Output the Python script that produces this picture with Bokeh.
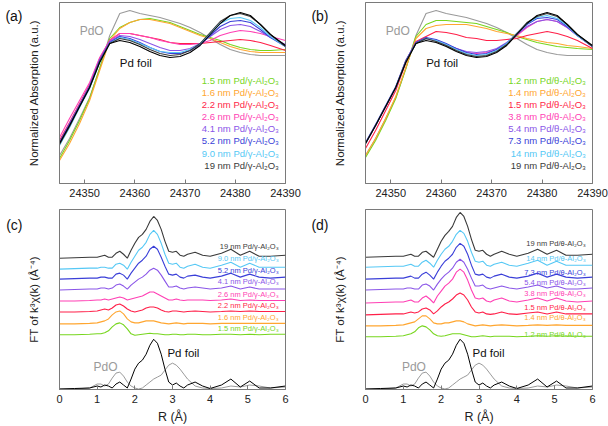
import numpy as np
from bokeh.plotting import figure
from bokeh.layouts import gridplot
from bokeh.models import Range1d, FixedTicker, Label, LinearAxis
from bokeh.embed import file_html
from bokeh.resources import INLINE

# ---------------- XANES data (a.u.) ----------------
energy = [24345, 24347, 24349, 24351, 24353, 24355, 24357, 24359, 24361, 24363, 24365, 24367,
          24369, 24371, 24373, 24375, 24377, 24379, 24381, 24383, 24385, 24387, 24390]

xanes_pd_foil = [40, 58, 77, 96, 121, 140, 143, 141, 137, 132, 128, 126, 127, 131, 138, 149, 160, 168, 171, 168, 159, 149, 138]
xanes_pdo = [28, 45, 65, 86, 115, 148, 170, 173, 170, 168, 166, 163, 160, 156, 151, 145, 139, 134, 131, 129, 128, 128, 128]

xanes_a_names = ["1.5 nm Pd/γ-Al₂O₃", "1.6 nm Pd/γ-Al₂O₃", "2.2 nm Pd/γ-Al₂O₃", "2.6 nm Pd/γ-Al₂O₃",
                 "4.1 nm Pd/γ-Al₂O₃", "5.2 nm Pd/γ-Al₂O₃", "9.0 nm Pd/γ-Al₂O₃", "19 nm Pd/γ-Al₂O₃"]
xanes_a_1p5 = [25, 43, 63, 85, 115, 145, 156, 161, 164, 165, 163, 161, 157, 153, 149, 146, 143, 139, 136, 134, 133, 133, 134]
xanes_a_1p6 = [23, 40, 60, 83, 113, 143, 155, 161, 164, 164, 162, 160, 156, 152, 148, 145, 141, 137, 134, 132, 131, 131, 131]
xanes_a_2p2 = [43, 61, 80, 99, 125, 143, 150, 150, 148, 146, 144, 141, 140, 140, 140, 141, 142, 143, 144, 143, 141, 138, 133]
xanes_a_2p6 = [46, 65, 83, 101, 126, 143, 150, 150, 148, 146, 143, 141, 139, 139, 140, 143, 148, 151, 153, 152, 150, 147, 143]
xanes_a_4p1 = [41, 60, 79, 98, 124, 142, 148, 147, 144, 140, 136, 133, 133, 135, 140, 147, 154, 158, 159, 157, 152, 146, 139]
xanes_a_5p2 = [41, 59, 78, 97, 123, 141, 147, 145, 141, 136, 132, 130, 130, 133, 139, 148, 157, 162, 163, 161, 154, 146, 137]
xanes_a_9p0 = [38, 56, 76, 95, 121, 140, 146, 144, 140, 136, 132, 131, 131, 134, 140, 150, 160, 165, 166, 163, 156, 147, 137]
xanes_a_19 = [39, 57, 77, 96, 122, 140, 145, 143, 139, 134, 130, 128, 129, 133, 140, 151, 162, 168, 170, 167, 159, 149, 137]

xanes_b_names = ["1.2 nm Pd/θ-Al₂O₃", "1.4 nm Pd/θ-Al₂O₃", "1.5 nm Pd/θ-Al₂O₃", "3.8 nm Pd/θ-Al₂O₃",
                 "5.4 nm Pd/θ-Al₂O₃", "7.3 nm Pd/θ-Al₂O₃", "14 nm Pd/θ-Al₂O₃", "19 nm Pd/θ-Al₂O₃"]
xanes_b_1p2 = [26, 43, 63, 85, 115, 147, 159, 163, 163, 162, 161, 160, 157, 154, 151, 147, 144, 141, 139, 137, 136, 135, 134]
xanes_b_1p4 = [28, 45, 65, 87, 116, 145, 155, 158, 159, 159, 159, 157, 155, 152, 150, 148, 145, 143, 141, 140, 138, 137, 135]
xanes_b_1p5 = [35, 53, 73, 93, 121, 142, 147, 152, 151, 149, 146, 145, 143, 143, 144, 145, 148, 150, 152, 150, 147, 143, 135]
xanes_b_3p8 = [40, 58, 77, 96, 123, 141, 145, 143, 139, 135, 131, 130, 131, 134, 140, 148, 156, 162, 164, 162, 156, 148, 137]
xanes_b_5p4 = [40, 58, 77, 96, 123, 141, 145, 143, 139, 135, 132, 131, 132, 135, 141, 149, 157, 162, 164, 162, 156, 148, 137]
xanes_b_7p3 = [41, 59, 78, 97, 123, 141, 146, 144, 140, 135, 131, 129, 130, 134, 140, 150, 159, 165, 166, 164, 157, 148, 137]
xanes_b_14 = [40, 58, 77, 96, 122, 140, 145, 143, 139, 134, 130, 128, 129, 133, 140, 150, 160, 166, 168, 165, 158, 148, 137]
xanes_b_19 = [40, 58, 77, 96, 122, 140, 145, 142, 138, 133, 129, 127, 128, 132, 139, 150, 161, 167, 170, 167, 159, 149, 137]

# ---------------- FT EXAFS data (a.u.) ----------------
r_dist = [0.0, 0.4, 0.8, 1.0, 1.1, 1.2, 1.3, 1.4, 1.5, 1.6, 1.7, 1.8, 1.9, 2.0, 2.1, 2.2, 2.3, 2.4, 2.5, 2.6,
          2.7, 2.8, 2.9, 3.0, 3.1, 3.2, 3.3, 3.4, 3.6, 3.8, 4.0, 4.3, 4.55, 4.8, 5.05, 5.3, 5.6, 6.0]

ft_pd_foil = [0, 0.5, 1, 3, 2, 4, 3, 1, 5, 7, 4, 1, 10, 20, 26, 29, 35, 44, 50, 46, 35, 20, 7, 4, 6, 3, 1, 4, 7, 3, 0.5, 4, 10, 2, 8, 1, 1, 3]
ft_pdo = [0, 0, 1, 5, 5, 3, 5, 11, 16, 17, 13, 7, 3, 1, 0, 1, 4, 7, 10, 12, 14, 19, 24, 26, 24, 20, 15, 10, 3, 1, 0.5, 1, 3, 2, 4, 3, 1, 2]

# panel (c), top to bottom
ft_c_names = ["19 nm Pd/γ-Al₂O₃", "9.0 nm Pd/γ-Al₂O₃", "5.2 nm Pd/γ-Al₂O₃", "4.1 nm Pd/γ-Al₂O₃",
              "2.6 nm Pd/γ-Al₂O₃", "2.2 nm Pd/γ-Al₂O₃", "1.6 nm Pd/γ-Al₂O₃", "1.5 nm Pd/γ-Al₂O₃"]
ft_c_19 = [0, 0.5, 1, 1, 2, 3, 1, 1, 5, 7, 4, 0, 8, 15, 21, 24, 29, 37, 42, 38, 29, 17, 7, 6, 7, 3, 2, 4, 6, 3, 2, 5, 9, 3, 7, 2, 2, 3]
ft_c_9p0 = [0, 0.5, 1, 1, 2, 2, 1, 1, 5, 6, 4, 0, 7, 13, 19, 22, 27, 35, 39, 35, 26, 15, 6, 5, 6, 2, 1, 3, 5, 2, 1, 4, 7, 2, 6, 2, 2, 2]
ft_c_5p2 = [0, 0.5, 1, 1, 2, 2, 1, 1, 5, 6, 4, 0, 6, 11, 16, 19, 23, 30, 33, 30, 22, 13, 5, 4, 5, 2, 1, 3, 4, 2, 1, 3, 6, 2, 5, 2, 1, 2]
ft_c_4p1 = [0, 0.5, 1, 1, 2, 2, 1, 2, 5, 6, 4, 1, 5, 8, 11, 13, 16, 20, 22, 20, 15, 9, 3, 3, 4, 2, 1, 2, 3, 2, 1, 2, 4, 1, 3, 1, 1, 1]
ft_c_2p6 = [0, 0, 0.5, 1, 1, 2, 1, 2, 3, 4, 3, 1, 2, 3, 4, 5, 7, 9, 9, 7, 5, 3, 1, 1, 2, 1, 0.5, 1, 1, 1, 0.5, 1, 2, 0.5, 1, 0.5, 0.5, 0.5]
ft_c_2p2 = [0, 0, 0.5, 1, 2, 3, 2, 4, 7, 8, 6, 3, 1, 0, 1, 2, 4, 5, 5, 4, 2, 0.5, 0, 1, 1, 0.5, 0, 0.5, 1, 0.5, 0, 0.5, 1, 0.5, 1, 0.5, 0.5, 0.5]
ft_c_1p6 = [0, 0, 0.5, 1, 2, 3, 5, 9, 12, 13, 10, 5, 2, 1, 1, 2, 3, 3, 3, 2, 1, 0.5, 0, 0.5, 1, 0.5, 0, 0.5, 0.5, 0.5, 0, 0.5, 0.5, 0.5, 0.5, 0.5, 0.5, 0.5]
ft_c_1p5 = [0, 0, 0.5, 1, 1, 2, 4, 8, 11, 12, 10, 6, 1, -0.5, 0, 0.5, 1, 1.5, 1, 1, 0.5, 0, 0, 0.5, 0.5, 0, 0, 0.5, 0.5, 0, 0, 0.5, 0.5, 0, 0.5, 0, 0.5, 0.5]
ft_c_offsets = [132, 121, 111, 100, 89, 78, 66, 55]

# panel (d), top to bottom
ft_d_names = ["19 nm Pd/θ-Al₂O₃", "14 nm Pd/θ-Al₂O₃", "7.3 nm Pd/θ-Al₂O₃", "5.4 nm Pd/θ-Al₂O₃",
              "3.8 nm Pd/θ-Al₂O₃", "1.5 nm Pd/θ-Al₂O₃", "1.4 nm Pd/θ-Al₂O₃", "1.2 nm Pd/θ-Al₂O₃"]
ft_d_19 = [0, 0.5, 1, 1, 2, 3, 1, 1, 5, 6, 3, 0, 8, 16, 22, 26, 31, 40, 45, 41, 31, 18, 7, 6, 7, 3, 1, 3, 6, 3, 1, 4, 8, 3, 7, 2, 2, 3]
ft_d_14 = [0, 0.5, 1, 1, 2, 3, 1, 1, 5, 7, 4, 0, 7, 13, 18, 21, 26, 33, 37, 34, 26, 15, 6, 5, 6, 2, 1, 3, 5, 2, 1, 4, 7, 2, 6, 2, 2, 2]
ft_d_7p3 = [0, 0.5, 1, 1, 2, 3, 1, 1, 5, 7, 4, 0, 7, 13, 18, 21, 25, 32, 36, 33, 25, 14, 5, 4, 5, 2, 1, 3, 5, 2, 1, 3, 6, 2, 5, 2, 1, 2]
ft_d_5p4 = [0, 0.5, 1, 1, 2, 2, 1, 1, 5, 6, 4, 0, 6, 11, 15, 18, 22, 28, 31, 28, 21, 12, 4, 4, 5, 2, 1, 2, 4, 2, 1, 3, 5, 2, 4, 1, 1, 2]
ft_d_3p8 = [0, 0.5, 1, 1, 2, 3, 1, 1, 5, 7, 4, 0, 7, 12, 17, 20, 24, 31, 34, 31, 23, 13, 5, 4, 5, 2, 1, 3, 5, 2, 1, 3, 5, 2, 5, 2, 1, 2]
ft_d_1p5 = [0, 0.5, 1, 1, 2, 3, 2, 3, 6, 7, 5, 1, 4, 8, 11, 13, 16, 20, 22, 20, 15, 8, 3, 2, 3, 1, 0.5, 1, 3, 1, 0.5, 2, 3, 1, 3, 1, 1, 1]
ft_d_1p4 = [0, 0, 0.5, 1, 2, 3, 4, 7, 10, 10, 7, 3, 2, 2, 3, 3, 4, 5, 5, 4, 2, 1, 0, 0.5, 1, 0.5, 0, 0.5, 1, 0.5, 0, 0.5, 1, 0.5, 1, 0.5, 0.5, 0.5]
ft_d_1p2 = [0, 0, 0.5, 1, 2, 3, 5, 9, 11, 10, 7, 3, 1, 0.5, 1, 2, 3, 3, 3, 2, 1, 0, 0, 0.5, 1, 0.5, 0, 0.5, 0.5, 0.5, 0, 0.5, 1, 0.5, 1, 0.5, 0.5, 0.5]
ft_d_offsets = [133, 123, 111, 100, 87, 75, 64, 53]

xanes_ticks = [24350, 24360, 24370, 24380, 24390]
r_ticks = [0, 1, 2, 3, 4, 5, 6]

# ---------------- styling ----------------
FONT = "Liberation Sans"
C_GREEN, C_ORANGE, C_RED, C_MAGENTA = "#77d61e", "#ffa630", "#ff1f48", "#ff3fb4"
C_PURPLE, C_BLUE, C_CYAN, C_DARK = "#8a55e8", "#3a3fd8", "#55c8f5", "#3a3a3a"
C_FOIL, C_PDO = "#000000", "#9a9a9a"
xanes_colors = [C_GREEN, C_ORANGE, C_RED, C_MAGENTA, C_PURPLE, C_BLUE, C_CYAN, C_DARK]
ft_colors = [C_DARK, C_CYAN, C_BLUE, C_PURPLE, C_MAGENTA, C_RED, C_ORANGE, C_GREEN]


def make_fig(width, height, lb, rb, tb, bb, xr, yr, xticks, ylabel, tag, tag_y, xlabel=None):
    p = figure(width=width, height=height, output_backend="svg", toolbar_location=None,
               x_range=Range1d(*xr), y_range=Range1d(*yr),
               min_border_left=lb, min_border_right=rb, min_border_top=tb, min_border_bottom=bb)
    p.grid.visible = False
    p.outline_line_color = "#7a7a7a"
    p.outline_line_width = 1
    p.background_fill_color = "white"
    p.border_fill_color = "white"
    xa = p.xaxis[0]
    xa.ticker = FixedTicker(ticks=xticks)
    xa.major_tick_in = 4
    xa.major_tick_out = 0
    xa.minor_tick_line_color = None
    xa.axis_line_color = "#7a7a7a"
    xa.major_tick_line_color = "#7a7a7a"
    xa.major_label_text_font = FONT
    xa.major_label_text_font_size = "11px"
    xa.major_label_text_color = "#222222"
    xa.major_label_standoff = 5
    if xlabel:
        xa.axis_label = xlabel
        xa.axis_label_text_font = FONT
        xa.axis_label_text_font_size = "12.5px"
        xa.axis_label_text_font_style = "normal"
        xa.axis_label_text_color = "#222222"
        xa.axis_label_standoff = 4
    ya = p.yaxis[0]
    ya.ticker = FixedTicker(ticks=[])
    ya.minor_tick_line_color = None
    ya.major_tick_line_color = None
    ya.major_label_text_font_size = "0px"
    ya.axis_line_color = "#7a7a7a"
    ya.axis_label = ylabel
    ya.axis_label_text_font = FONT
    ya.axis_label_text_font_size = "11.5px"
    ya.axis_label_text_font_style = "normal"
    ya.axis_label_text_color = "#222222"
    ya.axis_label_standoff = 20
    # outer left axis used only to carry the panel tag, e.g. "(a)"
    tag_axis = LinearAxis(ticker=FixedTicker(ticks=[tag_y]),
                          major_label_overrides={tag_y: tag},
                          axis_line_color=None, major_tick_line_color=None,
                          minor_tick_line_color=None, major_tick_out=0, major_tick_in=0,
                          major_label_standoff=2, major_label_text_font=FONT,
                          major_label_text_font_size="14px", major_label_text_color="#111111")
    p.add_layout(tag_axis, "left")
    return p


def add_text(p, x, y, text, color, size, align="center"):
    p.add_layout(Label(x=x, y=y, text=text, text_color=color, text_font=FONT,
                       text_font_size=size, text_align=align, text_baseline="middle"))


# ---------------- (a) / (b) XANES ----------------
def xanes_panel(lb, rb, series, names, tag):
    p = make_fig(304, 207, lb, rb, 2, 24, (24345, 24390), (0, 181), xanes_ticks,
                 "Normalized Absorption (a.u.)", tag, 168)
    p.line(energy, xanes_pdo, color=C_PDO, line_width=1.1)
    for s, c in zip(series, xanes_colors):
        p.line(energy, s, color=c, line_width=1.1)
    p.line(energy, xanes_pd_foil, color=C_FOIL, line_width=1.1)
    add_text(p, 24351.4, 153, "PdO", C_PDO, "12px")
    add_text(p, 24360.2, 121, "Pd foil", "#111111", "11.5px")
    legend_y = [103, 91, 79, 67, 55, 43, 30, 18]
    for n, c, y in zip(names, xanes_colors, legend_y):
        add_text(p, 24388.7, y, n, c, "9.5px", align="right")
    return p


pa = xanes_panel(59, 19, [xanes_a_1p5, xanes_a_1p6, xanes_a_2p2, xanes_a_2p6,
                          xanes_a_4p1, xanes_a_5p2, xanes_a_9p0, xanes_a_19], xanes_a_names, "(a)")
pb = xanes_panel(61, 16, [xanes_b_1p2, xanes_b_1p4, xanes_b_1p5, xanes_b_3p8,
                          xanes_b_5p4, xanes_b_7p3, xanes_b_14, xanes_b_19], xanes_b_names, "(b)")


# ---------------- (c) / (d) FT ----------------
def ft_panel(lb, rb, series, offsets, names, label_y, pdo_x, foil_x, tag):
    p = make_fig(304, 219, lb, rb, 2, 36, (0, 6), (0, 181), r_ticks,
                 "FT of k³χ(k) (Å⁻⁴)", tag, 165, xlabel="R (Å)")
    p.line(r_dist, np.array(ft_pdo) + 0.5, color=C_PDO, line_width=1.0)
    p.line(r_dist, np.array(ft_pd_foil) + 0.5, color=C_FOIL, line_width=1.0)
    for s, off, c in zip(series, offsets, ft_colors):
        p.line(r_dist, np.array(s) + off, color=c, line_width=1.1)
    for n, c, y in zip(names, ft_colors, label_y):
        add_text(p, 5.82, y, n, c, "7.5px", align="right")
    add_text(p, pdo_x, 23, "PdO", C_PDO, "12px")
    add_text(p, foil_x, 37, "Pd foil", "#111111", "11.5px")
    return p


pc = ft_panel(59, 19, [ft_c_19, ft_c_9p0, ft_c_5p2, ft_c_4p1, ft_c_2p6, ft_c_2p2, ft_c_1p6, ft_c_1p5],
              ft_c_offsets, ft_c_names, [144, 132, 120, 109, 96, 84, 72, 61], 1.22, 3.29, "(c)")
pd_ = ft_panel(61, 16, [ft_d_19, ft_d_14, ft_d_7p3, ft_d_5p4, ft_d_3p8, ft_d_1p5, ft_d_1p4, ft_d_1p2],
               ft_d_offsets, ft_d_names, [147, 132, 118, 108, 97, 82, 72, 55], 1.28, 3.25, "(d)")

grid = gridplot([[pa, pb], [pc, pd_]], toolbar_location=None)

open("out.html", "w").write(file_html(grid, INLINE))
